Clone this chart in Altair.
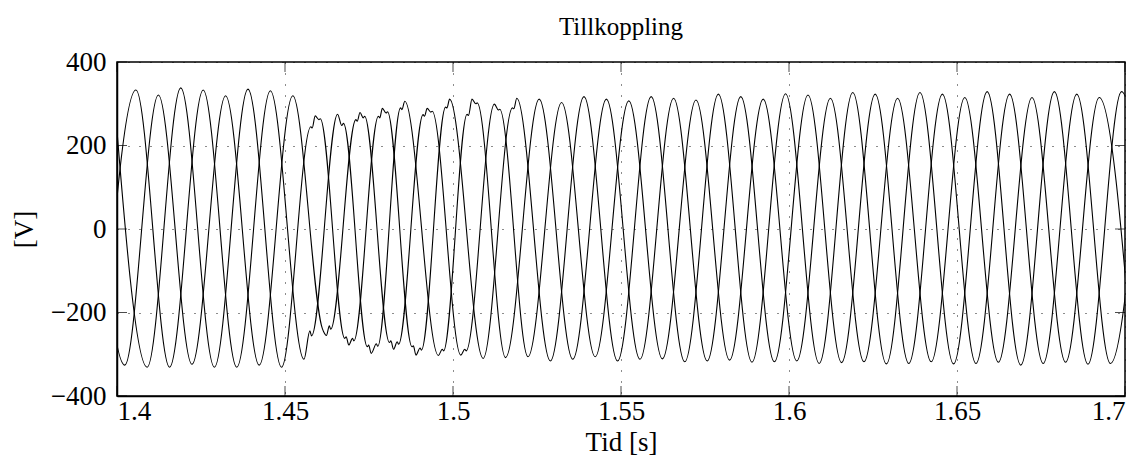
import altair as alt
import pandas as pd

# ---- data (extrema of each phase voltage) ----
a_t = [1.39565, 1.40565, 1.41565, 1.42565, 1.43565, 1.44565, 1.45565, 1.46565,
       1.47565, 1.48565, 1.49565, 1.50565, 1.51565, 1.52565, 1.53565, 1.54565,
       1.55565, 1.56565, 1.57565, 1.58565, 1.59565, 1.60565, 1.61565, 1.62565,
       1.63565, 1.64565, 1.65565, 1.66565, 1.67565, 1.68565, 1.69565, 1.70565]
a_v = [-331, 333, -331, 333, -331, 331, -312, 275, -298, 306, -303, 311, -308, 311,
       -312, 311, -312, 313, -316, 317, -318, 321, -320, 323, -322, 323, -322, 323,
       -322, 323, -322, 323]

b_t = [1.39232, 1.40232, 1.41232, 1.42232, 1.43232, 1.44232, 1.45232, 1.46232,
       1.47232, 1.48232, 1.49232, 1.50232, 1.51232, 1.52232, 1.53232, 1.54232,
       1.55232, 1.56232, 1.57232, 1.58232, 1.59232, 1.60232, 1.61232, 1.62232,
       1.63232, 1.64232, 1.65232, 1.66232, 1.67232, 1.68232, 1.69232, 1.70232]
b_v = [321, -326, 321, -324, 319, -326, 319, -255, 279, -288, 289, -302, 299, -306,
       303, -306, 307, -311, 309, -314, 311, -316, 313, -318, 313, -318, 315, -319,
       315, -319, 315, -319]

c_t = [1.39898, 1.40898, 1.41898, 1.42898, 1.43898, 1.44898, 1.45898, 1.46898,
       1.47898, 1.48898, 1.49898, 1.50898, 1.51898, 1.52898, 1.53898, 1.54898,
       1.55898, 1.56898, 1.57898, 1.58898, 1.59898, 1.60898, 1.61898, 1.62898,
       1.63898, 1.64898, 1.65898, 1.66898, 1.67898, 1.68898, 1.69898, 1.70898]
c_v = [335, -331, 338, -331, 335, -331, 271, -278, 289, -302, 311, -310, 313, -316,
       317, -316, 317, -318, 323, -319, 324, -322, 327, -323, 327, -323, 329, -326,
       329, -324, 329, -324]

# ripple (disturbance) samples during the connection transient
ra_t = [1.4574, 1.4579, 1.4669, 1.4674, 1.4745, 1.4749, 1.4772,
        1.4776, 1.4844, 1.4848, 1.4968, 1.4972, 1.5042, 1.5046, 1.5068, 1.5072]
ra_v = [-244, -256, 248, 253, -282, -278, -275, -281, 290, 286, -288, -292,
        275, 272, 300, 302]

rb_t = [1.4611, 1.4615, 1.4632, 1.4636, 1.4711, 1.4715, 1.4733,
        1.4737, 1.4811, 1.4815, 1.4834, 1.4838, 1.4911, 1.4915, 1.4934, 1.4938,
        1.5035, 1.5039, 1.5135, 1.5139]
rb_v = [-238, -246, -232, -240, 262, 258, 266, 270, -272, -268, -270, -276,
        274, 270, 280, 282, -288, -292, 285, 287]

rc_t = [1.4577, 1.4581, 1.4601, 1.4605, 1.4678, 1.4682, 1.4701,
        1.4705, 1.4778, 1.4782, 1.4801, 1.4805, 1.4878, 1.4882, 1.4902, 1.4906,
        1.4978, 1.4982, 1.5177, 1.5181]
rc_v = [245, 242, 262, 264, -262, -258, -262, -268, 270, 266, 278, 281,
        -282, -280, -285, -290, 292, 290, 290, 288]

x_ticks = [1.4, 1.45, 1.5, 1.55, 1.6, 1.65, 1.7]
y_ticks = [-400, -200, 0, 200, 400]

rows = []
for name, ts, vs in [("A", a_t + ra_t, a_v + ra_v),
                     ("B", b_t + rb_t, b_v + rb_v),
                     ("C", c_t + rc_t, c_v + rc_v)]:
    for t, v in zip(ts, vs):
        rows.append({"t": t, "v": v, "phase": name})
df = pd.DataFrame(rows).sort_values(["phase", "t"]).reset_index(drop=True)

FONT = "Liberation Serif, Times New Roman, serif"
xs = alt.Scale(domain=[1.4, 1.7], nice=False, zero=False)
ys = alt.Scale(domain=[-400, 400], nice=False, zero=False)

lines = alt.Chart(df).mark_line(
    interpolate="monotone", color="black", strokeWidth=1.1, clip=True
).encode(
    x=alt.X("t:Q", scale=xs,
            axis=alt.Axis(values=x_ticks, format=".2~f", title="Tid [s]", grid=True,
                          ticks=False, labelPadding=2, titlePadding=5)),
    y=alt.Y("v:Q", scale=ys,
            axis=alt.Axis(values=y_ticks, format="d", title="[V]", grid=True,
                          ticks=False, labelPadding=11, titlePadding=12)),
    detail="phase:N",
)

xt = pd.DataFrame({"t": x_ticks})
yt = pd.DataFrame({"v": y_ticks})

bottom_ticks = alt.Chart(xt).mark_tick(orient="vertical", color="black", size=10,
                                       thickness=1, yOffset=-5).encode(
    x=alt.X("t:Q", scale=xs), y=alt.datum(-400))
top_ticks = alt.Chart(xt).mark_tick(orient="vertical", color="black", size=10,
                                    thickness=1, yOffset=5).encode(
    x=alt.X("t:Q", scale=xs), y=alt.datum(400))
left_ticks = alt.Chart(yt).mark_tick(orient="horizontal", color="black", size=10,
                                     thickness=1, xOffset=5).encode(
    y=alt.Y("v:Q", scale=ys), x=alt.datum(1.4))
right_ticks = alt.Chart(yt).mark_tick(orient="horizontal", color="black", size=10,
                                      thickness=1, xOffset=-5).encode(
    y=alt.Y("v:Q", scale=ys), x=alt.datum(1.7))

chart = alt.layer(lines, bottom_ticks, top_ticks, left_ticks, right_ticks).properties(
    width=1008, height=334,
    background="white",
    title=alt.TitleParams("Tillkoppling", font=FONT, fontSize=25, fontWeight="normal",
                          color="black", anchor="middle", offset=8),
    autosize=alt.AutoSizeParams(type="none"),
    padding={"left": 109, "top": 54, "right": 14, "bottom": 63},
).configure_view(
    stroke="black", strokeWidth=1.5
).configure_axis(
    domainColor="black", domainWidth=1.5,
    labelFont=FONT, labelFontSize=27, labelColor="black",
    titleFont=FONT, titleFontSize=27, titleFontWeight="normal", titleColor="black",
    gridColor="black", gridDash=[1, 10], gridWidth=1, gridOpacity=0.9,
)

chart.save("out.html", embed_options={"renderer": "svg", "actions": False})
